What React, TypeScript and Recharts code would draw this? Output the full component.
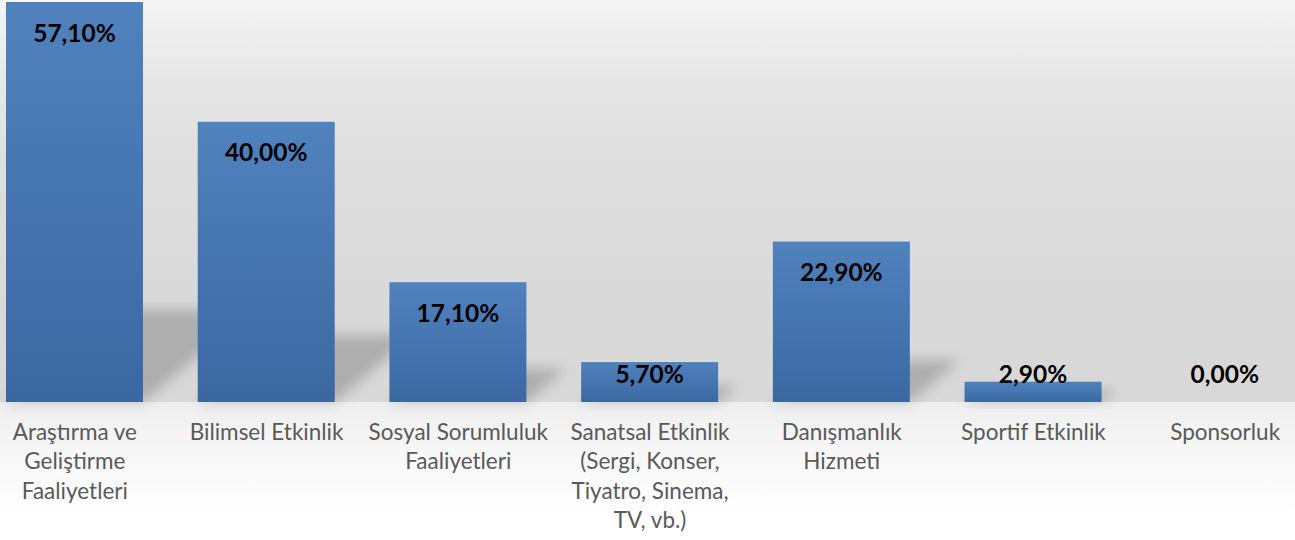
import React from 'react';
import { BarChart, Bar, XAxis, YAxis, LabelList } from 'recharts';

const categories: string[] = [
  'Araştırma ve\nGeliştirme\nFaaliyetleri',
  'Bilimsel Etkinlik',
  'Sosyal Sorumluluk\nFaaliyetleri',
  'Sanatsal Etkinlik\n(Sergi, Konser,\nTiyatro, Sinema,\nTV, vb.)',
  'Danışmanlık\nHizmeti',
  'Sportif Etkinlik',
  'Sponsorluk',
];
const values: number[] = [57.1, 40.0, 17.1, 5.7, 22.9, 2.9, 0.0];

const data = categories.map((name, i) => ({ name, value: values[i] }));

const FONT = 'Lato, "Open Sans", sans-serif';

const fmt = (v: number) => v.toFixed(2).replace('.', ',') + '%';

const BarShape = (props: any) => {
  const { x, y, width, height } = props;
  if (!height || height <= 0) return <g />;
  const base = y + height;
  const s = 0.21 * height + 8;
  const d = 1.2 * s;
  const pts = `${x},${base} ${x + width},${base} ${x + width + d},${base - s} ${x + d},${base - s}`;
  return (
    <g>
      <polygon points={pts} fill="#000" fillOpacity={0.2} filter="url(#shadowBlur)" />
      <rect x={x} y={y} width={width} height={height} fill="url(#barGrad)" />
    </g>
  );
};

const renderLabel = (props: any) => {
  const { x, y, width, value } = props;
  const by = Math.min(Number(y) + 39.5, 382.5);
  return (
    <text
      x={Number(x) + Number(width) / 2}
      y={by}
      textAnchor="middle"
      fontFamily={FONT}
      fontWeight="bold"
      fontSize={24.5}
      fill="#000"
    >
      {fmt(Number(value))}
    </text>
  );
};

const Tick = (props: any) => {
  const { x, y, payload } = props;
  const lines = String(payload.value).split('\n');
  return (
    <g>
      {lines.map((l, i) => (
        <text
          key={i}
          x={x}
          y={Number(y) + 38 + i * 29.3}
          textAnchor="middle"
          fontFamily={FONT}
          fontSize={22.5}
          fill="#595959"
        >
          {l}
        </text>
      ))}
    </g>
  );
};

export default function App() {
  return (
    <div
      style={{
        position: 'absolute',
        left: 0,
        top: 0,
        width: 1295,
        height: 540,
        overflow: 'hidden',
        background:
          'linear-gradient(to bottom, #f6f6f6 0px, #f1f1f1 15px, #e7e7e7 80px, #dedede 160px, #d9d9d9 300px, #d8d8d8 402px, #eeeeee 402px, #f5f5f5 440px, #ffffff 515px)',
      }}
    >
      <div style={{ position: 'absolute', left: -21, top: 0 }}>
        <BarChart
          width={1342}
          height={540}
          data={data}
          margin={{ top: 2, right: 0, left: 0, bottom: 8 }}
          barSize={137}
        >
          <defs>
            <linearGradient id="barGrad" x1="0" y1="0" x2="0" y2="1">
              <stop offset="0%" stopColor="#5082be" />
              <stop offset="100%" stopColor="#3b68a1" />
            </linearGradient>
            <filter id="shadowBlur" x="-50%" y="-50%" width="200%" height="200%">
              <feGaussianBlur stdDeviation="6.5" />
            </filter>
          </defs>
          <XAxis
            dataKey="name"
            axisLine={false}
            tickLine={false}
            tickSize={0}
            tickMargin={0}
            height={130}
            interval={0}
            tick={<Tick />}
          />
          <YAxis hide domain={[0, 'dataMax']} />
          <Bar dataKey="value" shape={<BarShape />} isAnimationActive={false}>
            <LabelList dataKey="value" content={renderLabel} />
          </Bar>
        </BarChart>
      </div>
    </div>
  );
}
